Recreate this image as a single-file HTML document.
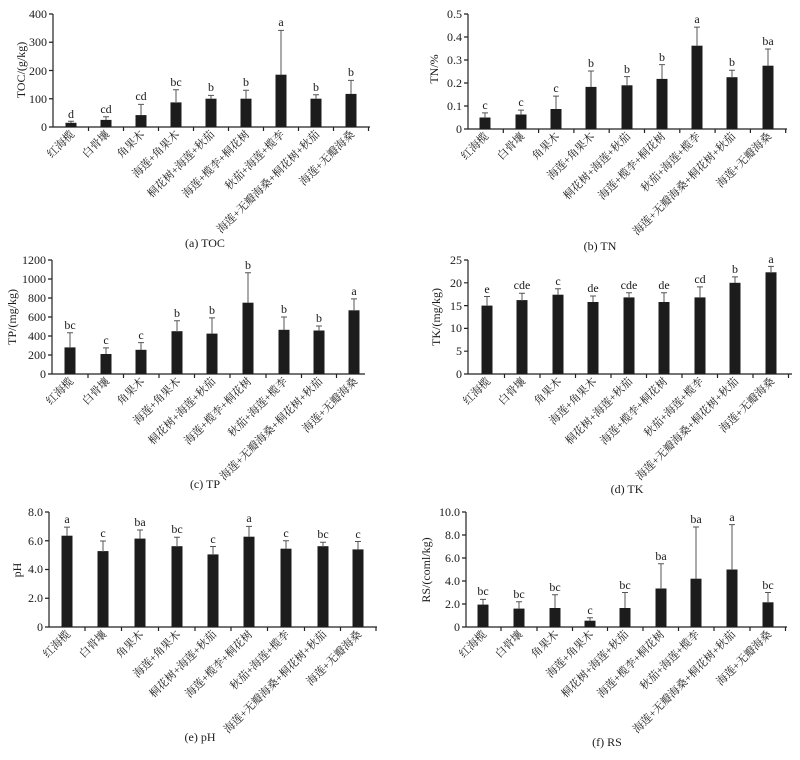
<!DOCTYPE html>
<html><head><meta charset="utf-8"><style>
body{margin:0;background:#fff}
svg{display:block}
text{font-family:"Liberation Serif","Noto Serif CJK SC",serif;fill:#1a1a1a}
.t{font-size:12px}
.c{font-size:11px;font-family:"Liberation Serif","Noto Serif CJK SC",serif}
.l{font-size:12px;text-anchor:middle}
.ax{stroke:#222;stroke-width:1.2;fill:none}
.er{stroke:#555;stroke-width:1;fill:none}
rect{fill:#1c1c1c}
</style></head><body>
<svg width="800" height="760" viewBox="0 0 800 760" xmlns="http://www.w3.org/2000/svg">

<!-- (a) TOC -->
<g transform="translate(53,127)">
<path class="ax" d="M0,-113V0H317 M-4,0H0 M-4,-28.25H0 M-4,-56.5H0 M-4,-84.75H0 M-4,-113H0 M35.5,0v4 M70.5,0v4 M105.5,0v4 M140.5,0v4 M175.5,0v4 M210.5,0v4 M245.5,0v4 M280.5,0v4 M315.5,0v4"/>
<g class="t" text-anchor="end"><text x="-6" y="4">0</text><text x="-6" y="-24">100</text><text x="-6" y="-52">200</text><text x="-6" y="-81">300</text><text x="-6" y="-109">400</text></g>
<text class="t" transform="translate(-28,-57) rotate(-90)" text-anchor="middle">TOC/(g/kg)</text>
<rect x="12.5" y="-4.2" width="11" height="4.2"/><rect x="47.5" y="-7.1" width="11" height="7.1"/><rect x="82.5" y="-11.9" width="11" height="11.9"/><rect x="117.5" y="-24.6" width="11" height="24.6"/><rect x="152.5" y="-28.3" width="11" height="28.3"/><rect x="187.5" y="-28.3" width="11" height="28.3"/><rect x="222.5" y="-52.3" width="11" height="52.3"/><rect x="257.5" y="-28.3" width="11" height="28.3"/><rect x="292.5" y="-33.1" width="11" height="33.1"/>
<path class="er" d="M18,-4V-5.7m-3,0h6 M53,-7V-10.2m-3,0h6 M88,-12V-22.6m-3,0h6 M123,-25V-37.3m-3,0h6 M158,-28V-31.6m-3,0h6 M193,-28V-36.7m-3,0h6 M228,-52V-96.6m-3,0h6 M263,-28V-32.2m-3,0h6 M298,-33V-46.6m-3,0h6"/>
<g class="l"><text x="18" y="-9">d</text><text x="53" y="-14">cd</text><text x="88" y="-27">cd</text><text x="123" y="-41">bc</text><text x="158" y="-36">b</text><text x="193" y="-41">b</text><text x="228" y="-101">a</text><text x="263" y="-36">b</text><text x="298" y="-51">b</text></g>
<g class="c" text-anchor="end"><text transform="translate(22,8) rotate(-45)">红海榄</text><text transform="translate(57,8) rotate(-45)">白骨壤</text><text transform="translate(92,8) rotate(-45)">角果木</text><text transform="translate(127,8) rotate(-45)">海莲+角果木</text><text transform="translate(162,8) rotate(-45)">桐花树+海莲+秋茄</text><text transform="translate(197,8) rotate(-45)">海莲+榄李+桐花树</text><text transform="translate(232,8) rotate(-45)">秋茄+海莲+榄李</text><text transform="translate(267,8) rotate(-45)">海莲+无瓣海桑+桐花树+秋茄</text><text transform="translate(302,8) rotate(-45)">海莲+无瓣海桑</text></g>
</g>
<text x="205" y="247" class="l">(a) TOC</text>

<!-- (b) TN -->
<g transform="translate(468,129)">
<path class="ax" d="M0,-115V0H319 M-4,0H0 M-4,-23H0 M-4,-46H0 M-4,-69H0 M-4,-92H0 M-4,-115H0 M35.3,0v4 M70.6,0v4 M105.9,0v4 M141.2,0v4 M176.5,0v4 M211.8,0v4 M247.1,0v4 M282.4,0v4 M317.7,0v4"/>
<g class="t" text-anchor="end"><text x="-6" y="4">0</text><text x="-6" y="-19">0.1</text><text x="-6" y="-42">0.2</text><text x="-6" y="-65">0.3</text><text x="-6" y="-88">0.4</text><text x="-6" y="-111">0.5</text></g>
<text class="t" transform="translate(-30,-60) rotate(-90)" text-anchor="middle">TN/%</text>
<rect x="11.5" y="-11.5" width="11" height="11.5"/><rect x="47.5" y="-14.5" width="11" height="14.5"/><rect x="82.5" y="-20" width="11" height="20"/><rect x="117.5" y="-42.1" width="11" height="42.1"/><rect x="153.5" y="-43.7" width="11" height="43.7"/><rect x="188.5" y="-50.1" width="11" height="50.1"/><rect x="223.5" y="-83.3" width="11" height="83.3"/><rect x="258.5" y="-51.8" width="11" height="51.8"/><rect x="294.5" y="-63.3" width="11" height="63.3"/>
<path class="er" d="M17,-11V-16.1m-3,0h6 M53,-14V-18.9m-3,0h6 M88,-20V-32.9m-3,0h6 M123,-42V-58m-3,0h6 M159,-43V-52.4m-3,0h6 M194,-50V-64.4m-3,0h6 M229,-83V-101.9m-3,0h6 M264,-51V-58.7m-3,0h6 M300,-63V-80m-3,0h6"/>
<g class="l"><text x="17" y="-20">c</text><text x="53" y="-23">c</text><text x="88" y="-37">c</text><text x="123" y="-62">b</text><text x="159" y="-56">b</text><text x="194" y="-68">b</text><text x="229" y="-106">a</text><text x="264" y="-63">b</text><text x="300" y="-84">ba</text></g>
<g class="c" text-anchor="end"><text transform="translate(21,8) rotate(-45)">红海榄</text><text transform="translate(57,8) rotate(-45)">白骨壤</text><text transform="translate(92,8) rotate(-45)">角果木</text><text transform="translate(127,8) rotate(-45)">海莲+角果木</text><text transform="translate(163,8) rotate(-45)">桐花树+海莲+秋茄</text><text transform="translate(198,8) rotate(-45)">海莲+榄李+桐花树</text><text transform="translate(233,8) rotate(-45)">秋茄+海莲+榄李</text><text transform="translate(268,8) rotate(-45)">海莲+无瓣海桑+桐花树+秋茄</text><text transform="translate(304,8) rotate(-45)">海莲+无瓣海桑</text></g>
</g>
<text x="600" y="250" class="l">(b) TN</text>

<!-- (c) TP -->
<g transform="translate(52,374)">
<path class="ax" d="M0,-114V0H313 M-4,0H0 M-4,-19H0 M-4,-38H0 M-4,-57H0 M-4,-76H0 M-4,-95H0 M-4,-114H0 M36,0v4 M71.5,0v4 M107,0v4 M142.5,0v4 M178,0v4 M214,0v4 M249.5,0v4 M284.5,0v4"/>
<g class="t" text-anchor="end"><text x="-6" y="4">0</text><text x="-6" y="-15">200</text><text x="-6" y="-34">400</text><text x="-6" y="-53">600</text><text x="-6" y="-72">800</text><text x="-6" y="-91">1000</text><text x="-6" y="-110">1200</text></g>
<text class="t" transform="translate(-36,-57) rotate(-90)" text-anchor="middle">TP/(mg/kg)</text>
<rect x="12.5" y="-26.6" width="11" height="26.6"/><rect x="48.5" y="-20" width="11" height="20"/><rect x="83.5" y="-24.2" width="11" height="24.2"/><rect x="119.5" y="-42.8" width="11" height="42.8"/><rect x="154.5" y="-40.4" width="11" height="40.4"/><rect x="190.5" y="-71.3" width="11" height="71.3"/><rect x="226.5" y="-44.2" width="11" height="44.2"/><rect x="261.5" y="-43.5" width="11" height="43.5"/><rect x="296.5" y="-63.7" width="11" height="63.7"/>
<path class="er" d="M18,-26V-41.3m-3,0h6 M54,-20V-26.1m-3,0h6 M89,-24V-31.4m-3,0h6 M125,-42V-53.2m-3,0h6 M160,-40V-56.1m-3,0h6 M196,-71V-101.2m-3,0h6 M232,-44V-57m-3,0h6 M267,-43V-48m-3,0h6 M302,-63V-75.1m-3,0h6"/>
<g class="l"><text x="18" y="-45">bc</text><text x="54" y="-30">c</text><text x="89" y="-35">c</text><text x="125" y="-57">b</text><text x="160" y="-60">b</text><text x="196" y="-105">b</text><text x="232" y="-61">b</text><text x="267" y="-52">b</text><text x="302" y="-79">a</text></g>
<g class="c" text-anchor="end"><text transform="translate(22,8) rotate(-45)">红海榄</text><text transform="translate(58,8) rotate(-45)">白骨壤</text><text transform="translate(93,8) rotate(-45)">角果木</text><text transform="translate(129,8) rotate(-45)">海莲+角果木</text><text transform="translate(164,8) rotate(-45)">桐花树+海莲+秋茄</text><text transform="translate(200,8) rotate(-45)">海莲+榄李+桐花树</text><text transform="translate(236,8) rotate(-45)">秋茄+海莲+榄李</text><text transform="translate(271,8) rotate(-45)">海莲+无瓣海桑+桐花树+秋茄</text><text transform="translate(306,8) rotate(-45)">海莲+无瓣海桑</text></g>
</g>
<text x="205" y="488" class="l">(c) TP</text>

<!-- (d) TK -->
<g transform="translate(468,374)">
<path class="ax" d="M0,-114V0H324 M-4,0H0 M-4,-22.8H0 M-4,-45.6H0 M-4,-68.4H0 M-4,-91.2H0 M-4,-114H0 M36.5,0v4 M72,0v4 M107.5,0v4 M143,0v4 M178.5,0v4 M214,0v4 M249.5,0v4 M285,0v4 M320.5,0v4"/>
<g class="t" text-anchor="end"><text x="-6" y="4">0</text><text x="-6" y="-19">5</text><text x="-6" y="-42">10</text><text x="-6" y="-64">15</text><text x="-6" y="-87">20</text><text x="-6" y="-110">25</text></g>
<text class="t" transform="translate(-28,-57) rotate(-90)" text-anchor="middle">TK/(mg/kg)</text>
<rect x="13.5" y="-68.4" width="11" height="68.4"/><rect x="48.5" y="-73.9" width="11" height="73.9"/><rect x="84.5" y="-79.3" width="11" height="79.3"/><rect x="119.5" y="-72" width="11" height="72"/><rect x="155.5" y="-76.6" width="11" height="76.6"/><rect x="190.5" y="-72" width="11" height="72"/><rect x="226.5" y="-76.6" width="11" height="76.6"/><rect x="261.5" y="-91.2" width="11" height="91.2"/><rect x="297.5" y="-101.7" width="11" height="101.7"/>
<path class="er" d="M19,-68V-77.5m-3,0h6 M54,-73V-80.7m-3,0h6 M90,-79V-85.3m-3,0h6 M125,-72V-78m-3,0h6 M161,-76V-81.2m-3,0h6 M196,-72V-81.2m-3,0h6 M232,-76V-87.1m-3,0h6 M267,-91V-97.1m-3,0h6 M303,-101V-107.6m-3,0h6"/>
<g class="l"><text x="19" y="-81">e</text><text x="54" y="-85">cde</text><text x="90" y="-89">c</text><text x="125" y="-82">de</text><text x="161" y="-85">cde</text><text x="196" y="-85">de</text><text x="232" y="-91">cd</text><text x="267" y="-101">b</text><text x="303" y="-111">a</text></g>
<g class="c" text-anchor="end"><text transform="translate(23,8) rotate(-45)">红海榄</text><text transform="translate(58,8) rotate(-45)">白骨壤</text><text transform="translate(94,8) rotate(-45)">角果木</text><text transform="translate(129,8) rotate(-45)">海莲+角果木</text><text transform="translate(165,8) rotate(-45)">桐花树+海莲+秋茄</text><text transform="translate(200,8) rotate(-45)">海莲+榄李+桐花树</text><text transform="translate(236,8) rotate(-45)">秋茄+海莲+榄李</text><text transform="translate(271,8) rotate(-45)">海莲+无瓣海桑+桐花树+秋茄</text><text transform="translate(307,8) rotate(-45)">海莲+无瓣海桑</text></g>
</g>
<text x="627" y="493" class="l">(d) TK</text>

<!-- (e) pH -->
<g transform="translate(49,627)">
<path class="ax" d="M0,-115V0H328 M-4,0H0 M-4,-28.75H0 M-4,-57.5H0 M-4,-86.25H0 M-4,-115H0 M36,0v4 M72.5,0v4 M109.5,0v4 M146,0v4 M182,0v4 M218.5,0v4 M255.5,0v4 M291.5,0v4 M327,0v4"/>
<g class="t" text-anchor="end"><text x="-6" y="4">0</text><text x="-6" y="-25">2.0</text><text x="-6" y="-54">4.0</text><text x="-6" y="-82">6.0</text><text x="-6" y="-111">8.0</text></g>
<text class="t" transform="translate(-28,-57) rotate(-90)" text-anchor="middle">pH</text>
<rect x="12.5" y="-91.3" width="11" height="91.3"/><rect x="48.5" y="-75.9" width="11" height="75.9"/><rect x="85.5" y="-88.4" width="11" height="88.4"/><rect x="122.5" y="-80.8" width="11" height="80.8"/><rect x="158.5" y="-72.6" width="11" height="72.6"/><rect x="194.5" y="-90.3" width="11" height="90.3"/><rect x="231.5" y="-78.3" width="11" height="78.3"/><rect x="268.5" y="-80.8" width="11" height="80.8"/><rect x="303.5" y="-77.6" width="11" height="77.6"/>
<path class="er" d="M18,-91V-99.9m-3,0h6 M54,-75V-86m-3,0h6 M91,-88V-97m-3,0h6 M128,-80V-89.8m-3,0h6 M164,-72V-80.5m-3,0h6 M200,-90V-100.6m-3,0h6 M237,-78V-86.3m-3,0h6 M274,-80V-84.8m-3,0h6 M309,-77V-85.5m-3,0h6"/>
<g class="l"><text x="18" y="-104">a</text><text x="54" y="-90">c</text><text x="91" y="-101">ba</text><text x="128" y="-94">bc</text><text x="164" y="-84">c</text><text x="200" y="-105">a</text><text x="237" y="-90">c</text><text x="274" y="-89">bc</text><text x="309" y="-89">c</text></g>
<g class="c" text-anchor="end"><text transform="translate(22,8) rotate(-45)">红海榄</text><text transform="translate(58,8) rotate(-45)">白骨壤</text><text transform="translate(95,8) rotate(-45)">角果木</text><text transform="translate(132,8) rotate(-45)">海莲+角果木</text><text transform="translate(168,8) rotate(-45)">桐花树+海莲+秋茄</text><text transform="translate(204,8) rotate(-45)">海莲+榄李+桐花树</text><text transform="translate(241,8) rotate(-45)">秋茄+海莲+榄李</text><text transform="translate(278,8) rotate(-45)">海莲+无瓣海桑+桐花树+秋茄</text><text transform="translate(313,8) rotate(-45)">海莲+无瓣海桑</text></g>
</g>
<text x="200" y="741" class="l">(e) pH</text>

<!-- (f) RS -->
<g transform="translate(466,627)">
<path class="ax" d="M0,-115V0H321 M-4,0H0 M-4,-23H0 M-4,-46H0 M-4,-69H0 M-4,-92H0 M-4,-115H0 M35,0v4 M71,0v4 M106.5,0v4 M141.5,0v4 M177,0v4 M212.5,0v4 M248,0v4 M284,0v4 M319.5,0v4"/>
<g class="t" text-anchor="end"><text x="-6" y="4">0</text><text x="-6" y="-19">2.0</text><text x="-6" y="-42">4.0</text><text x="-6" y="-65">6.0</text><text x="-6" y="-88">8.0</text><text x="-6" y="-111">10.0</text></g>
<text class="t" transform="translate(-36,-57) rotate(-90)" text-anchor="middle">RS/(coml/kg)</text>
<rect x="11.5" y="-22.4" width="11" height="22.4"/><rect x="47.5" y="-18.4" width="11" height="18.4"/><rect x="83.5" y="-19" width="11" height="19"/><rect x="118.5" y="-6.3" width="11" height="6.3"/><rect x="153.5" y="-19" width="11" height="19"/><rect x="189.5" y="-38.5" width="11" height="38.5"/><rect x="224.5" y="-48.3" width="11" height="48.3"/><rect x="260.5" y="-57.5" width="11" height="57.5"/><rect x="296.5" y="-24.7" width="11" height="24.7"/>
<path class="er" d="M17,-22V-27.6m-3,0h6 M53,-18V-25.3m-3,0h6 M89,-19V-32.2m-3,0h6 M124,-6V-9.2m-3,0h6 M159,-19V-34.5m-3,0h6 M195,-38V-63.3m-3,0h6 M230,-48V-100m-3,0h6 M266,-57V-102.4m-3,0h6 M302,-24V-34.5m-3,0h6"/>
<g class="l"><text x="17" y="-32">bc</text><text x="53" y="-29">bc</text><text x="89" y="-36">bc</text><text x="124" y="-13">c</text><text x="159" y="-38">bc</text><text x="195" y="-67">ba</text><text x="230" y="-104">ba</text><text x="266" y="-106">a</text><text x="302" y="-38">bc</text></g>
<g class="c" text-anchor="end"><text transform="translate(21,8) rotate(-45)">红海榄</text><text transform="translate(57,8) rotate(-45)">白骨壤</text><text transform="translate(93,8) rotate(-45)">角果木</text><text transform="translate(128,8) rotate(-45)">海莲+角果木</text><text transform="translate(163,8) rotate(-45)">桐花树+海莲+秋茄</text><text transform="translate(199,8) rotate(-45)">海莲+榄李+桐花树</text><text transform="translate(234,8) rotate(-45)">秋茄+海莲+榄李</text><text transform="translate(270,8) rotate(-45)">海莲+无瓣海桑+桐花树+秋茄</text><text transform="translate(306,8) rotate(-45)">海莲+无瓣海桑</text></g>
</g>
<text x="607" y="746" class="l">(f) RS</text>
</svg>
</body></html>
